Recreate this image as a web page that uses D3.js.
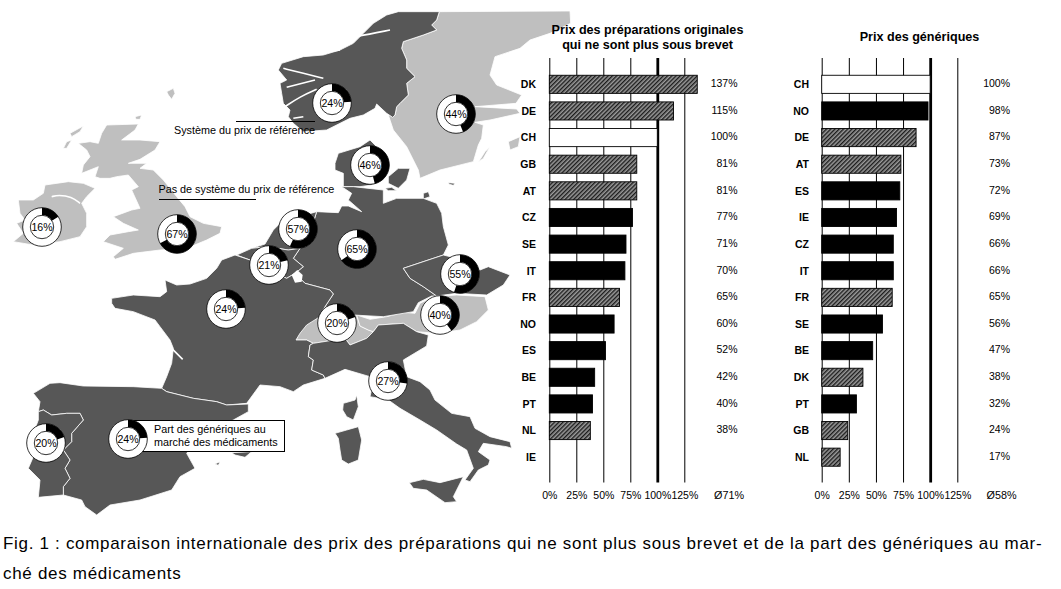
<!DOCTYPE html>
<html>
<head>
<meta charset="utf-8">
<script src="https://d3js.org/d3.v7.min.js"></script>
<style>
  html, body { margin: 0; padding: 0; background: white; }
  text { font-family: "Liberation Sans", Arial, sans-serif; fill: black; }
</style>
</head>
<body>
<div id="my_dataviz"></div>
<script>
// ------ Chart data

const origCountries = ["DK", "DE", "CH", "GB", "AT", "CZ", "SE", "IT", "FR", "NO", "ES", "BE", "PT", "NL", "IE"];
const origValues = [137, 115, 100, 81, 81, 77, 71, 70, 65, 60, 52, 42, 40, 38, null];

const genCountries = ["CH", "NO", "DE", "AT", "ES", "IE", "CZ", "IT", "FR", "SE", "BE", "DK", "PT", "GB", "NL"];
const genValues = [100, 98, 87, 73, 72, 69, 66, 66, 65, 56, 47, 38, 32, 24, 17];

const hatchedCountries = ["DK", "DE", "GB", "AT", "FR", "NL"];
const whiteCountries = ["CH"];
const tickValues = [0, 25, 50, 75, 100, 125];

// share of generics per country, shown in the rings on the map
const shareLabels = ["IE", "GB", "NO", "SE", "DK", "NL", "DE", "BE", "CZ", "AT", "CH", "FR", "IT", "ES", "PT"];
const shareValues = [16, 67, 24, 44, 46, 57, 65, 21, 55, 40, 20, 24, 27, 24, 20];

// ------ Layout

const ringPos = {
  IE: [42, 227], GB: [177, 234], NO: [332, 103], SE: [456, 114], DK: [370, 165],
  NL: [298, 229], DE: [357, 249], BE: [269, 265], CZ: [460, 274], AT: [440, 315],
  CH: [337, 323], FR: [226, 309], IT: [388, 381], ES: [128, 439], PT: [46, 443]
};

const darkGrey = "#575757";
const lightGrey = "#bfbfbf";

const svg = d3.select("#my_dataviz")
  .append("svg")
  .attr("width", 1061)
  .attr("height", 589)
  .style("display", "block");

const defs = svg.append("defs");
const hatch = defs.append("pattern")
  .attr("id", "hatch")
  .attr("patternUnits", "userSpaceOnUse")
  .attr("width", 3)
  .attr("height", 3)
  .attr("patternTransform", "rotate(45)");
hatch.append("rect").attr("width", 3).attr("height", 3).attr("fill", "#9a9a9a");
hatch.append("rect").attr("width", 1.4).attr("height", 3).attr("fill", "#1c1c1c");

// ------ Map outlines in 3x crops (ox, oy = crop corner)

function tile(ox, oy, pts) {
  return pts.map(p => [ox + p[0] / 3, oy + p[1] / 3]);
}

const light = [
  // Sweden
  tile(260, 0, [[538, 35]]).concat(
    tile(440, 5, [[390, 18], [392, 55], [330, 85], [270, 105], [240, 130], [165, 155], [150, 210], [170, 240], [245, 270], [228, 295], [105, 305], [230, 312], [240, 325], [150, 345], [105, 352], [130, 360], [125, 400], [115, 420], [100, 470], [0, 495]]),
    tile(260, 0, [[480, 535], [475, 510], [440, 440], [400, 390], [385, 345], [405, 345], [410, 320], [420, 310], [445, 285], [440, 250], [465, 230], [440, 205], [440, 180], [425, 145], [430, 125], [490, 105], [530, 90], [515, 75], [530, 60]])),
  tile(440, 5, [[205, 410], [240, 395], [235, 425], [210, 435]]),
  tile(440, 5, [[115, 472], [135, 440], [150, 425], [130, 460]]),
  // Great Britain
  tile(0, 0, [[320, 375], [415, 372], [405, 390], [365, 420], [420, 420], [480, 425], [465, 450], [420, 478], [385, 490], [440, 490], [420, 505], [460, 510], [490, 540], [530, 590], [555, 620], [570, 650], [610, 670], [665, 680], [660, 700], [620, 720], [560, 745], [480, 750], [400, 760], [345, 778], [340, 770], [370, 745], [310, 725], [330, 705], [385, 695], [415, 690], [370, 670], [340, 650], [395, 630], [420, 625], [395, 570], [415, 560], [385, 525], [350, 530], [330, 535], [300, 535], [285, 530], [295, 500], [245, 520], [250, 495], [270, 470], [260, 450], [235, 430], [270, 425], [295, 430], [305, 400]]),
  tile(0, 0, [[210, 400], [250, 378], [240, 395], [215, 410]]),
  tile(0, 0, [[190, 445], [200, 425], [215, 420], [200, 445]]),
  tile(0, 0, [[405, 350], [425, 345], [420, 358], [408, 358]]),
  tile(0, 0, [[500, 275], [520, 265], [525, 280], [515, 298], [505, 285]]),
  // Ireland
  tile(0, 0, [[135, 555], [205, 545], [250, 550], [285, 565], [260, 590], [245, 610], [260, 640], [260, 680], [240, 710], [180, 725], [100, 735], [40, 725], [70, 700], [50, 670], [75, 660], [60, 640], [55, 600], [100, 600], [130, 580]]),
  // Switzerland
  tile(260, 260, [[108, 240], [125, 200], [165, 170], [290, 165], [300, 198], [325, 210], [340, 215], [320, 235], [270, 255], [255, 235], [160, 250], [140, 240]]),
  // Austria
  tile(260, 260, [[290, 165], [330, 178], [380, 170], [430, 157], [465, 160], [480, 130], [520, 110], [590, 105], [675, 110], [685, 150], [650, 185], [600, 210], [530, 220], [470, 215], [430, 190], [355, 195], [340, 215], [325, 210], [300, 198]])
];

const dark = [
  // Norway
  tile(260, 0, [[415, 35], [538, 35], [530, 60], [515, 75], [530, 90], [490, 105], [430, 125], [425, 145], [440, 180], [440, 205], [465, 230], [440, 250], [445, 285], [420, 310], [410, 320], [405, 345], [398, 352], [380, 340], [350, 312], [345, 325], [310, 345], [270, 355], [200, 390], [130, 395], [100, 370], [85, 350], [90, 330], [70, 310], [65, 280], [60, 250], [80, 240], [55, 210], [65, 190], [130, 170], [190, 165], [240, 150], [280, 130], [310, 100], [340, 70], [380, 45]]),
  // Denmark
  tile(260, 0, [[225, 490], [235, 460], [300, 440], [330, 420], [350, 440], [385, 490], [370, 540], [335, 555], [300, 560], [250, 560], [250, 520], [225, 510]]),
  tile(260, 0, [[385, 530], [415, 505], [450, 505], [440, 540], [415, 565], [385, 550]]),
  tile(260, 0, [[375, 565], [395, 562], [410, 572], [385, 572]]),
  tile(260, 0, [[565, 548], [585, 550], [580, 556], [568, 553]]),
  tile(260, 0, [[490, 580], [505, 575], [510, 590], [490, 597]]),
  // Germany
  tile(210, 170, [[320, 125], [300, 190], [270, 235], [250, 265], [280, 290], [255, 310], [285, 340], [360, 360], [370, 372], [345, 410], [430, 435], [520, 440], [610, 425], [625, 398], [665, 378], [680, 378], [640, 350], [600, 325], [580, 295], [700, 255], [715, 225], [700, 170], [695, 130], [680, 100], [640, 85], [560, 85], [520, 100], [520, 60], [430, 50], [395, 50], [425, 70], [415, 90], [455, 125], [415, 108], [395, 108], [385, 128]]),
  // Czech Republic
  tile(210, 170, [[580, 295], [700, 255], [740, 265], [810, 300], [835, 290], [900, 315], [880, 345], [830, 375], [740, 370], [680, 378], [640, 350], [600, 325]]),
  // Netherlands
  tile(210, 170, [[125, 235], [165, 222], [190, 180], [215, 155], [320, 125], [300, 190], [270, 235], [235, 240], [170, 230]]),
  // Belgium
  tile(210, 170, [[80, 255], [125, 235], [170, 230], [235, 240], [270, 235], [250, 265], [280, 290], [255, 310], [230, 325], [120, 270]]),
  // France
  tile(0, 260, [[335, 115], [400, 105], [480, 110], [500, 95], [495, 60], [530, 75], [570, 72], [620, 55], [650, 25], [665, 0]]).concat(
    tile(210, 170, [[75, 255], [120, 270], [230, 325], [255, 310], [285, 340], [360, 360], [370, 372], [345, 410], [330, 440], [290, 465], [270, 490]]),
    tile(260, 260, [[108, 240], [140, 240], [160, 250], [150, 255], [145, 290], [160, 300], [155, 330], [190, 345], [195, 355], [130, 375], [100, 395], [60, 380], [0, 375]]),
    tile(0, 260, [[740, 430], [680, 435], [650, 425], [580, 415], [500, 395], [485, 385], [500, 350], [515, 310], [520, 265], [510, 240], [480, 200], [465, 180], [400, 155], [345, 145], [335, 130]])),
  // Italy
  tile(260, 260, [[160, 250], [255, 235], [270, 255], [320, 235], [340, 215], [355, 195], [430, 190], [470, 215], [505, 225], [500, 258], [430, 300], [440, 350], [480, 365], [510, 390], [525, 420], [575, 460], [630, 470], [645, 505], [690, 530], [750, 545], [755, 565], [740, 560], [670, 550], [655, 575], [690, 600], [685, 615], [655, 630], [630, 665], [615, 660], [640, 625], [620, 570], [590, 552], [530, 510], [480, 480], [420, 445], [385, 420], [330, 410], [340, 365], [330, 350], [255, 328], [195, 355], [190, 345], [155, 330], [160, 300], [145, 290], [150, 255]]),
  tile(260, 260, [[448, 668], [490, 658], [540, 668], [610, 650], [580, 710], [590, 725], [555, 728], [500, 690], [460, 685]]),
  tile(260, 260, [[250, 430], [285, 420], [290, 405], [295, 440], [280, 480], [260, 470], [248, 450]]),
  tile(260, 260, [[225, 520], [260, 510], [295, 500], [305, 540], [295, 600], [265, 612], [245, 600], [240, 570], [235, 535]]),
  // Spain
  tile(0, 260, [[100, 400], [150, 370], [180, 368], [250, 378], [400, 380], [485, 385], [500, 395], [580, 415], [650, 425], [680, 435], [745, 432], [745, 455], [700, 480], [610, 520], [560, 580], [585, 625], [540, 650], [515, 690], [420, 720], [330, 735], [290, 765], [255, 740], [245, 720], [190, 705], [190, 680], [210, 655], [195, 625], [210, 600], [190, 570], [215, 545], [215, 520], [250, 480], [240, 460], [200, 460], [155, 465], [130, 450], [115, 455], [120, 425]]),
  tile(0, 260, [[695, 578], [755, 575], [735, 592], [705, 585]]),
  tile(0, 260, [[645, 612], [660, 605], [655, 616]]),
  // Portugal
  tile(0, 260, [[115, 455], [130, 450], [155, 465], [200, 460], [240, 460], [250, 480], [215, 520], [215, 545], [190, 570], [210, 600], [195, 625], [210, 655], [190, 680], [190, 705], [115, 712], [120, 660], [85, 625], [100, 590], [100, 520], [115, 480]])
];

// white fjords, inlets and borders cut through the land
const cuts = [
  tile(260, 0, [[215, 120], [290, 110], [390, 90]]),
  tile(260, 0, [[140, 165], [240, 150]]),
  tile(260, 0, [[70, 205], [130, 220], [190, 235]]),
  tile(260, 0, [[80, 262], [165, 240]]),
  tile(260, 0, [[75, 320], [120, 290], [170, 268]]),
  tile(260, 0, [[100, 355], [130, 350]]),
  tile(0, 0, [[155, 590], [175, 585], [215, 590], [240, 610]]),
  tile(0, 260, [[515, 265], [548, 298]])
];

const line = d3.line().curve(d3.curveLinearClosed);
const openLine = d3.line().curve(d3.curveBasis);

const mapGroup = svg.append("g");

mapGroup.selectAll("path.light")
  .data(light)
  .join("path")
  .attr("class", "light")
  .attr("d", line)
  .attr("fill", lightGrey)
  .attr("stroke", "white")
  .attr("stroke-width", 0.8);

mapGroup.selectAll("path.dark")
  .data(dark)
  .join("path")
  .attr("class", "dark")
  .attr("d", line)
  .attr("fill", darkGrey)
  .attr("stroke", "white")
  .attr("stroke-width", 0.8);

mapGroup.selectAll("path.cut")
  .data(cuts)
  .join("path")
  .attr("class", "cut")
  .attr("d", openLine)
  .attr("fill", "none")
  .attr("stroke", "white")
  .attr("stroke-width", 1.6);

// Luxembourg is left white
mapGroup.append("path")
  .attr("d", line(tile(210, 170, [[245, 315], [262, 300], [278, 315], [275, 335], [255, 338]])))
  .attr("fill", "white");

// ------ Annotations on the map

svg.append("text").attr("x", 174).attr("y", 134).attr("font-size", 10.8).text("Système du prix de référence");
svg.append("line").attr("x1", 236).attr("x2", 315).attr("y1", 121.5).attr("y2", 121.5).attr("stroke", "black");

svg.append("text").attr("x", 158.5).attr("y", 193).attr("font-size", 10.8).text("Pas de système du prix de référence");
svg.append("line").attr("x1", 159).attr("x2", 256).attr("y1", 199.5).attr("y2", 199.5).attr("stroke", "black");

svg.append("rect")
  .attr("x", 128.5).attr("y", 420.5)
  .attr("width", 156).attr("height", 31)
  .attr("fill", "white").attr("stroke", "black");
svg.append("text").attr("x", 154).attr("y", 433).attr("font-size", 10.8).text("Part des génériques au");
svg.append("text").attr("x", 154).attr("y", 446).attr("font-size", 10.8).text("marché des médicaments");

// ------ Rings

const ringOuter = 19.3;
const ringInner = 11.7;
const ringAngle = d3.scaleLinear().domain([0, 100]).range([0, 2 * Math.PI]);
const ringArc = d3.arc().innerRadius(ringInner).outerRadius(ringOuter).startAngle(0);

const rings = svg.selectAll("g.ring")
  .data(shareLabels.map((c, i) => ({ country: c, value: shareValues[i] })))
  .join("g")
  .attr("class", "ring")
  .attr("transform", d => `translate(${ringPos[d.country][0]},${ringPos[d.country][1]})`);

rings.append("circle").attr("r", ringOuter).attr("fill", "white").attr("stroke", "black").attr("stroke-width", 0.8);
rings.append("path").attr("d", d => ringArc({ endAngle: ringAngle(d.value) })).attr("fill", "black");
rings.append("circle").attr("r", ringInner).attr("fill", "white").attr("stroke", "black").attr("stroke-width", 0.8);
rings.append("text")
  .attr("text-anchor", "middle")
  .attr("dy", "0.36em")
  .attr("font-size", 10.6)
  .text(d => d.value + "%");

// ------ Bar panels

function barPanel(countries, values, opts) {
  const x = d3.scaleLinear().domain([0, 125]).range([opts.x0, opts.x125]);
  const y = d3.scaleBand().domain(countries).range([71, 470.5]).paddingInner(0.32).paddingOuter(0.16);
  const g = svg.append("g");

  const axis = g.append("g")
    .attr("transform", "translate(0,482.5)")
    .call(d3.axisBottom(x).tickValues(tickValues).tickFormat(d => d + "%").tickSize(-424.5).tickPadding(9));
  axis.select(".domain").remove();
  axis.selectAll("line")
    .attr("stroke", "black")
    .attr("stroke-width", d => d === 100 ? 2.8 : 1);
  axis.selectAll("text")
    .style("font-family", '"Liberation Sans", Arial, sans-serif')
    .style("font-size", "10.5px")
    .attr("fill", "black");

  g.selectAll("rect.bar")
    .data(countries.map((c, i) => ({ country: c, value: values[i] })).filter(d => d.value !== null))
    .join("rect")
    .attr("class", "bar")
    .attr("x", x(0))
    .attr("y", d => y(d.country))
    .attr("width", d => x(d.value) - x(0))
    .attr("height", y.bandwidth())
    .attr("fill", d => hatchedCountries.includes(d.country) ? "url(#hatch)" : whiteCountries.includes(d.country) ? "white" : "black")
    .attr("stroke", "black")
    .attr("stroke-width", 0.9);

  g.selectAll("text.country")
    .data(countries)
    .join("text")
    .attr("class", "country")
    .attr("x", opts.labelX)
    .attr("y", d => y(d) + y.bandwidth() / 2)
    .attr("dy", "0.36em")
    .attr("text-anchor", "end")
    .attr("font-size", 10.5)
    .attr("font-weight", "bold")
    .text(d => d);

  g.selectAll("text.value")
    .data(countries.map((c, i) => ({ country: c, value: values[i] })).filter(d => d.value !== null))
    .join("text")
    .attr("class", "value")
    .attr("x", opts.valueX)
    .attr("y", d => y(d.country) + y.bandwidth() / 2 - 1)
    .attr("dy", "0.36em")
    .attr("text-anchor", "end")
    .attr("font-size", 10.5)
    .text(d => d.value + "%");

  g.append("text")
    .attr("x", opts.meanX)
    .attr("y", 499)
    .attr("text-anchor", "end")
    .attr("font-size", 10.8)
    .text(opts.mean);

  opts.title.forEach(t => {
    g.append("text")
      .attr("x", opts.titleX)
      .attr("y", t.y)
      .attr("text-anchor", "middle")
      .attr("font-size", 12.6)
      .attr("font-weight", "bold")
      .text(t.text);
  });
}

barPanel(origCountries, origValues, {
  x0: 549.3, x125: 684.3, labelX: 536, valueX: 737.5, meanX: 744, mean: "Ø71%", titleX: 647.5,
  title: [{ text: "Prix des préparations originales", y: 34 }, { text: "qui ne sont plus sous brevet", y: 49 }]
});

barPanel(genCountries, genValues, {
  x0: 821.7, x125: 957.3, labelX: 809, valueX: 1010, meanX: 1016.5, mean: "Ø58%", titleX: 919.5,
  title: [{ text: "Prix des génériques", y: 41 }]
});

// ------ Caption

svg.append("text").attr("x", 3).attr("y", 549).attr("font-size", 17).attr("letter-spacing", 0.69)
  .text("Fig. 1 : comparaison internationale des prix des préparations qui ne sont plus sous brevet et de la part des génériques au mar-");
svg.append("text").attr("x", 3).attr("y", 579).attr("font-size", 17).attr("letter-spacing", 0.69)
  .text("ché des médicaments");
</script>
</body>
</html>
